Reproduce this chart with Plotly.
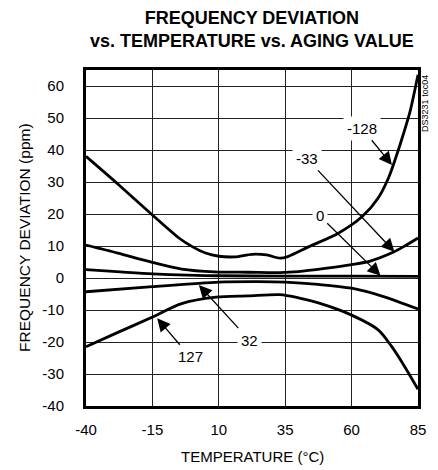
import plotly.graph_objects as go

# ---- data ----
temp_m128 = [-40, -27.5, -15, -5, 0, 5, 10, 16, 22.5, 28, 33, 36, 44, 55, 64, 70, 74, 77, 79.5, 82, 85]
dev_m128 = [38, 29, 19.7, 12.5, 9.8, 7.8, 6.8, 6.6, 7.4, 7.2, 6.2, 6.7, 9.8, 14, 19.2, 25, 31.5, 38.5, 45, 52, 63.5]

temp_m33 = [-40, -28, -16, -4, 8.5, 21, 33, 40, 50, 60, 67, 76, 80, 85]
dev_m33 = [10.3, 7.8, 5.1, 2.8, 1.9, 1.8, 1.7, 2.0, 3.0, 4.2, 5.3, 8.2, 10, 12.5]

temp_0 = [-40, -27, -15, -2, 10, 35, 60, 85]
dev_0 = [2.6, 1.9, 1.3, 0.9, 0.7, 0.6, 0.6, 0.5]

temp_32 = [-40, -15, 10, 24.5, 35, 47.4, 60, 72, 85]
dev_32 = [-4.3, -2.7, -1.3, -1.15, -1.3, -2.0, -3.2, -5.8, -9.7]

temp_127 = [-40, -28, -16, -4, 9, 21, 33, 40, 47.5, 60, 70, 75, 80, 85]
dev_127 = [-21.5, -17, -12.6, -8, -6, -5.6, -5.2, -6.2, -7.8, -11.6, -16.2, -21.3, -27.7, -34.8]

series = [
    ("-128", temp_m128, dev_m128),
    ("-33", temp_m33, dev_m33),
    ("0", temp_0, dev_0),
    ("32", temp_32, dev_32),
    ("127", temp_127, dev_127),
]

# callout labels: text, label position (T, ppm), arrow head (T, ppm)
label_text = ["-128", "-33", "0", "32", "127"]
label_pos = [(63.9, 46.8), (43.1, 37.4), (48.0, 19.4), (21.5, -19.4), (-0.8, -24.6)]
arrow_head = [(75.2, 35.3), (76.1, 8.2), (70.9, 0.7), (2.5, -2.2), (-13.2, -12.6)]

x_ticks = [-40, -15, 10, 35, 60, 85]
x_tick_labels = ["-40", "-15", "10", "35", "60", "85"]
y_ticks = [-40, -30, -20, -10, 0, 10, 20, 30, 40, 50, 60]
y_tick_labels = ["-40", "-30", "-20", "-10", "0", "10", "20", "30", "40", "50", "60"]

FONT = "Liberation Sans, Arial, sans-serif"

fig = go.Figure()
for name, t, v in series:
    fig.add_trace(go.Scatter(
        x=t, y=v, mode="lines", name=name,
        line=dict(color="black", width=2.8, shape="spline", smoothing=0.8),
        showlegend=False, hoverinfo="skip",
    ))

annotations = []
for txt, (lx, ly), (hx, hy) in zip(label_text, label_pos, arrow_head):
    annotations.append(dict(
        x=hx, y=hy, xref="x", yref="y",
        ax=lx, ay=ly, axref="x", ayref="y",
        text=txt, showarrow=True,
        arrowhead=2, arrowsize=2.0, arrowwidth=1.3, arrowcolor="black",
        font=dict(family=FONT, size=15, color="black"),
        bgcolor="white", borderpad=3,
    ))

annotations += [
    dict(text="<b>FREQUENCY DEVIATION<br>vs. TEMPERATURE vs. AGING VALUE</b>",
         xref="paper", yref="paper", x=0.5, y=(406 - 30) / 336,
         xanchor="center", yanchor="middle", showarrow=False,
         font=dict(family=FONT, size=18, color="black")),
    dict(text="TEMPERATURE (°C)", xref="paper", yref="paper",
         x=0.5, y=(406 - 457) / 336, xanchor="center", yanchor="middle",
         showarrow=False, font=dict(family=FONT, size=15, color="black")),
    dict(text="FREQUENCY DEVIATION (ppm)", xref="paper", yref="paper",
         x=(23 - 86) / 337, y=(406 - 237) / 336, xanchor="center", yanchor="middle",
         textangle=-90, showarrow=False,
         font=dict(family=FONT, size=15.5, color="black")),
    dict(text="DS3231 toc04", xref="paper", yref="paper",
         x=(430 - 86) / 337, y=(406 - 103) / 336, xanchor="center", yanchor="middle",
         textangle=-90, showarrow=False,
         font=dict(family=FONT, size=9, color="black")),
]

fig.update_layout(
    width=438, height=470,
    margin=dict(l=86, r=15, t=70, b=64),
    paper_bgcolor="white", plot_bgcolor="white",
    annotations=annotations,
    font=dict(family=FONT, color="black"),
    xaxis=dict(
        range=[-40, 85], tickvals=x_ticks, ticktext=x_tick_labels, ticks="",
        showgrid=True, gridcolor="#222", gridwidth=1,
        zeroline=False, showline=True, mirror=True,
        linecolor="black", linewidth=3,
        tickfont=dict(family=FONT, size=15, color="black"),
        ticklabelstandoff=8,
    ),
    yaxis=dict(
        range=[-40, 65], tickvals=y_ticks, ticktext=y_tick_labels, ticks="",
        showgrid=True, gridcolor="#222", gridwidth=1,
        zeroline=False, showline=True, mirror=True,
        linecolor="black", linewidth=3,
        tickfont=dict(family=FONT, size=15, color="black"),
        ticklabelstandoff=16,
    ),
)

fig.write_html(
    "out.html",
    config={"displayModeBar": False},
    post_script="document.body.style.margin='0';document.body.style.overflow='hidden';",
)
